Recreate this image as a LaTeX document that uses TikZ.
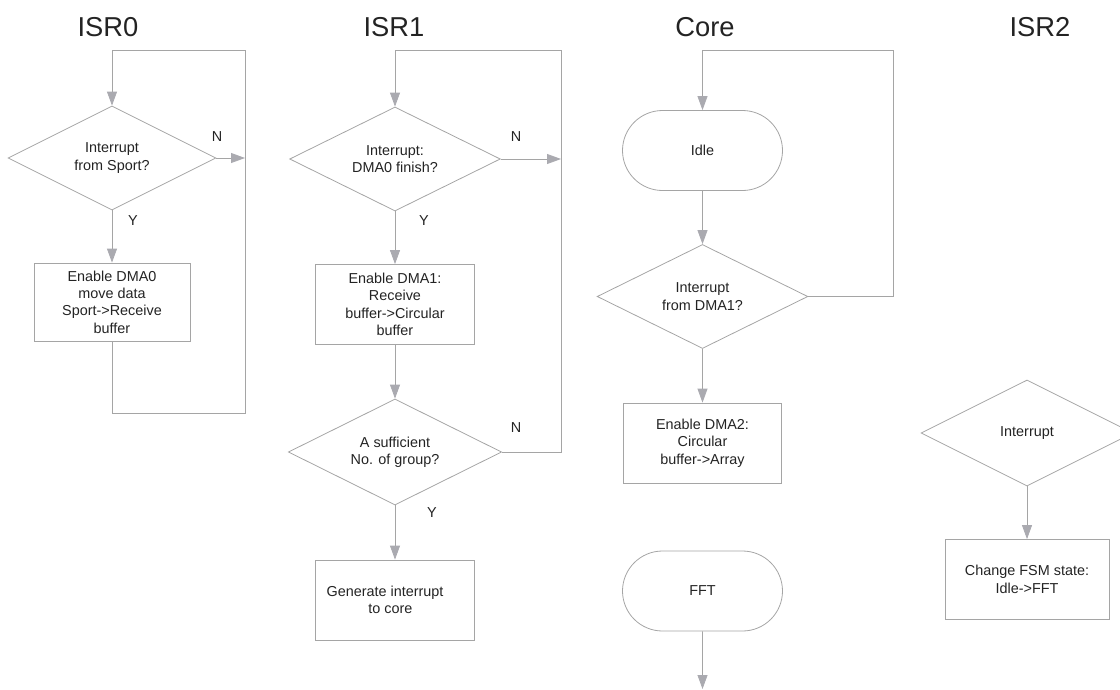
\documentclass[tikz,border=0pt]{standalone}
\usepackage{fontspec}
\setmainfont{Liberation Sans}
\usetikzlibrary{shapes.geometric}
\usetikzlibrary{shapes.misc}
\usetikzlibrary{arrows.meta}
\definecolor{flowline}{RGB}{165,165,165}
\definecolor{flowtip}{RGB}{170,170,176}
\definecolor{flowtext}{RGB}{35,35,35}
\tikzset{
    decision/.style = {diamond, aspect=2, draw=flowline, line width=0.6pt, inner sep=0pt, minimum width=158pt, minimum height=78pt, align=center, text=flowtext, font=\fontsize{10.8}{13}\selectfont},
    process/.style = {rectangle, draw=flowline, line width=0.6pt, inner sep=0pt, minimum width=119pt, minimum height=60pt, align=center, text=flowtext, font=\fontsize{10.8}{13}\selectfont},
    terminal/.style = {rounded rectangle, draw=flowline, line width=0.6pt, inner sep=0pt, minimum width=120pt, minimum height=60pt, align=center, text=flowtext, font=\fontsize{10.8}{13}\selectfont},
    title/.style = {text=flowtext, font=\fontsize{20.5}{24}\selectfont},
    yn/.style = {text=flowtext, font=\fontsize{10.8}{13}\selectfont},
    edgen/.style = {draw=flowline, line width=0.6pt, -{Triangle[length=10.5pt,width=7.5pt,color=flowtip,fill=flowtip]}},
    edgep/.style = {draw=flowline, line width=0.6pt}
}
\begin{document}
\begin{tikzpicture}[x=0.75pt,y=-0.75pt]
\path[use as bounding box] (0,0) rectangle (1120,689);
%
\node[title] at (108,27) (t0) {ISR0};
\node[title] at (394,27) (t1) {ISR1};
\node[title] at (705,27) (tc) {Core};
\node[title] at (1040,27) (t2) {ISR2};
%
% ISR0
\node[decision, minimum width=156pt] at (112,158) (isr0q) {Interrupt\\from Sport?};
\node[process, minimum width=117pt, minimum height=58.5pt] at (112,302) (isr0box) {Enable DMA0\\move data\\Sport->Receive\\buffer};
\coordinate (isr0tl) at (112,50);
\coordinate (isr0br) at (245,413);
\coordinate (isr0n) at (245,158);
%
\draw[edgen] (isr0q) -- (isr0box);
\draw[edgen] (isr0q.east) -- (isr0n);
\draw[edgen] (isr0box.south) |- (isr0br) |- (isr0tl) -- (isr0q.north);
\node[yn] at (217,137) (isr0N) {N};
\node[yn] at (133,221) (isr0Y) {Y};
%
% ISR1
\node[decision] at (395,159) (isr1q) {Interrupt:\\DMA0 finish?};
\node[process] at (395,304.5) (isr1box) {Enable DMA1:\\Receive\\buffer->Circular\\buffer};
\node[decision, minimum width=160pt, minimum height=79.5pt] at (395,452) (isr1grp) {A sufficient\\No. of group?};
\node[process, minimum height=60pt] at (395,600) (isr1gen) {Generate interrupt\hspace*{15pt}\\to core\hspace*{7pt}};
\coordinate (isr1tl) at (395,50);
\coordinate (isr1tr) at (561,50);
\coordinate (isr1n) at (561,159);
\coordinate (isr1br) at (561,452);
%
\draw[edgen] (isr1tr) -- (isr1tl) -- (isr1q.north);
\draw[edgen] (isr1q.east) -- (isr1n);
\draw[edgen] (isr1q) -- (isr1box);
\draw[edgen] (isr1box) -- (isr1grp);
\draw[edgep] (isr1grp.east) -- (isr1br) -- (isr1tr);
\draw[edgen] (isr1grp) -- (isr1gen);
\node[yn] at (516,137) (isr1N) {N};
\node[yn] at (424,221) (isr1Y) {Y};
\node[yn] at (516,428) (isr1N2) {N};
\node[yn] at (432,513) (isr1Y2) {Y};
%
% Core
\node[terminal] at (702.5,150.5) (idle) {Idle};
\node[decision] at (702.5,296.5) (coreq) {Interrupt\\from DMA1?};
\node[process] at (702.5,443) (corebox) {Enable DMA2:\\Circular\\buffer->Array};
\node[terminal] at (702.5,591) (fft) {FFT};
\coordinate (coretl) at (702.5,50);
\coordinate (coretr) at (893,50);
\coordinate (coreend) at (702.5,689);
%
\draw[edgen] (coreq.east) -| (coretr) -- (coretl) -- (idle.north);
\draw[edgen] (idle) -- (coreq);
\draw[edgen] (coreq) -- (corebox);
\draw[edgen] (fft) -- (coreend);
%
% ISR2
\node[decision, minimum width=159pt, minimum height=79.5pt] at (1027,433) (isr2q) {Interrupt};
\node[process, minimum width=123pt] at (1027,579.5) (isr2box) {Change FSM state:\\Idle->FFT};
\draw[edgen] (isr2q) -- (isr2box);
%
\end{tikzpicture}
\end{document}
